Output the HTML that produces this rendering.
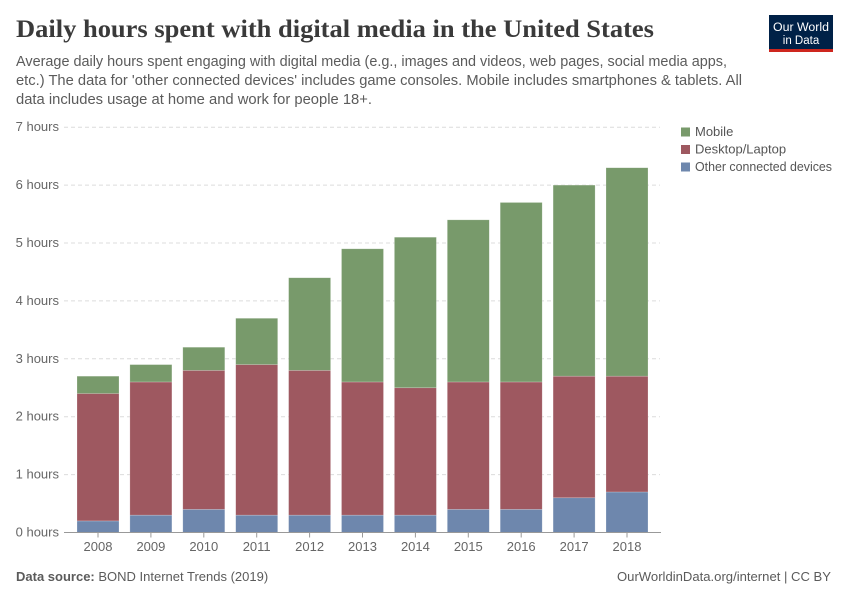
<!DOCTYPE html>
<html>
<head>
<meta charset="utf-8">
<style>
  html,body{margin:0;padding:0;background:#fff;}
  svg{display:block;}
  text{font-family:"Liberation Sans",sans-serif;}
  text.serif{font-family:"Liberation Serif",serif;}
</style>
</head>
<body>
<svg width="850" height="600" viewBox="0 0 850 600" xmlns="http://www.w3.org/2000/svg">
  <rect width="850" height="600" fill="#fff"/>

  <!-- Title -->
  <text class="serif" x="16" y="37" style="font-family:'Liberation Serif',serif;" font-size="25" font-weight="bold" fill="#3a3a3a" textLength="638" lengthAdjust="spacingAndGlyphs">Daily hours spent with digital media in the United States</text>

  <!-- Subtitle -->
  <g font-size="14.5" fill="#5b5b5b">
    <text x="16" y="66" textLength="711" lengthAdjust="spacingAndGlyphs">Average daily hours spent engaging with digital media (e.g., images and videos, web pages, social media apps,</text>
    <text x="16" y="85" textLength="726" lengthAdjust="spacingAndGlyphs">etc.) The data for 'other connected devices' includes game consoles. Mobile includes smartphones &amp; tablets. All</text>
    <text x="16" y="104" textLength="356" lengthAdjust="spacingAndGlyphs">data includes usage at home and work for people 18+.</text>
  </g>

  <!-- Logo -->
  <rect x="769" y="15" width="64" height="34" fill="#002147"/>
  <rect x="769" y="49" width="64" height="3" fill="#ce261e"/>
  <text x="801" y="31" font-size="11.5" fill="#fff" text-anchor="middle" textLength="56" lengthAdjust="spacingAndGlyphs">Our World</text>
  <text x="801" y="44" font-size="11.5" fill="#fff" text-anchor="middle">in Data</text>

  <!-- Gridlines -->
  <g stroke="#dcdcdc" stroke-width="1" stroke-dasharray="4,3">
    <line x1="64" y1="474.6" x2="660" y2="474.6"/>
    <line x1="64" y1="416.7" x2="660" y2="416.7"/>
    <line x1="64" y1="358.8" x2="660" y2="358.8"/>
    <line x1="64" y1="300.9" x2="660" y2="300.9"/>
    <line x1="64" y1="243.0" x2="660" y2="243.0"/>
    <line x1="64" y1="185.1" x2="660" y2="185.1"/>
    <line x1="64" y1="127.2" x2="660" y2="127.2"/>
  </g>

  <!-- Y labels -->
  <g font-size="13" fill="#666" text-anchor="end">
    <text x="59" y="536.5">0 hours</text>
    <text x="59" y="478.6">1 hours</text>
    <text x="59" y="420.7">2 hours</text>
    <text x="59" y="362.8">3 hours</text>
    <text x="59" y="304.9">4 hours</text>
    <text x="59" y="247.0">5 hours</text>
    <text x="59" y="189.1">6 hours</text>
    <text x="59" y="131.2">7 hours</text>
  </g>

  <!-- Bars -->
  <g stroke="#ffffff" stroke-opacity="0.35" stroke-width="0.6">
    <rect x="77" y="520.92" width="42" height="11.58" fill="#6e87ad"/>
    <rect x="77" y="393.54" width="42" height="127.38" fill="#9e5860"/>
    <rect x="77" y="376.17" width="42" height="17.37" fill="#789a6b"/>
    <rect x="129.9" y="515.13" width="42" height="17.37" fill="#6e87ad"/>
    <rect x="129.9" y="381.96" width="42" height="133.17" fill="#9e5860"/>
    <rect x="129.9" y="364.59" width="42" height="17.37" fill="#789a6b"/>
    <rect x="182.8" y="509.34" width="42" height="23.16" fill="#6e87ad"/>
    <rect x="182.8" y="370.38" width="42" height="138.96" fill="#9e5860"/>
    <rect x="182.8" y="347.22" width="42" height="23.16" fill="#789a6b"/>
    <rect x="235.7" y="515.13" width="42" height="17.37" fill="#6e87ad"/>
    <rect x="235.7" y="364.59" width="42" height="150.54" fill="#9e5860"/>
    <rect x="235.7" y="318.27" width="42" height="46.32" fill="#789a6b"/>
    <rect x="288.6" y="515.13" width="42" height="17.37" fill="#6e87ad"/>
    <rect x="288.6" y="370.38" width="42" height="144.75" fill="#9e5860"/>
    <rect x="288.6" y="277.74" width="42" height="92.64" fill="#789a6b"/>
    <rect x="341.5" y="515.13" width="42" height="17.37" fill="#6e87ad"/>
    <rect x="341.5" y="381.96" width="42" height="133.17" fill="#9e5860"/>
    <rect x="341.5" y="248.79" width="42" height="133.17" fill="#789a6b"/>
    <rect x="394.4" y="515.13" width="42" height="17.37" fill="#6e87ad"/>
    <rect x="394.4" y="387.75" width="42" height="127.38" fill="#9e5860"/>
    <rect x="394.4" y="237.21" width="42" height="150.54" fill="#789a6b"/>
    <rect x="447.3" y="509.34" width="42" height="23.16" fill="#6e87ad"/>
    <rect x="447.3" y="381.96" width="42" height="127.38" fill="#9e5860"/>
    <rect x="447.3" y="219.84" width="42" height="162.12" fill="#789a6b"/>
    <rect x="500.2" y="509.34" width="42" height="23.16" fill="#6e87ad"/>
    <rect x="500.2" y="381.96" width="42" height="127.38" fill="#9e5860"/>
    <rect x="500.2" y="202.47" width="42" height="179.49" fill="#789a6b"/>
    <rect x="553.1" y="497.76" width="42" height="34.74" fill="#6e87ad"/>
    <rect x="553.1" y="376.17" width="42" height="121.59" fill="#9e5860"/>
    <rect x="553.1" y="185.1" width="42" height="191.07" fill="#789a6b"/>
    <rect x="606" y="491.97" width="42" height="40.53" fill="#6e87ad"/>
    <rect x="606" y="376.17" width="42" height="115.8" fill="#9e5860"/>
    <rect x="606" y="167.73" width="42" height="208.44" fill="#789a6b"/>
  </g>

  <!-- X axis -->
  <line x1="64" y1="532.5" x2="661" y2="532.5" stroke="#999" stroke-width="1"/>
  <g stroke="#999" stroke-width="1">
    <line x1="98" y1="532.5" x2="98" y2="537.5"/>
    <line x1="150.9" y1="532.5" x2="150.9" y2="537.5"/>
    <line x1="203.8" y1="532.5" x2="203.8" y2="537.5"/>
    <line x1="256.7" y1="532.5" x2="256.7" y2="537.5"/>
    <line x1="309.6" y1="532.5" x2="309.6" y2="537.5"/>
    <line x1="362.5" y1="532.5" x2="362.5" y2="537.5"/>
    <line x1="415.4" y1="532.5" x2="415.4" y2="537.5"/>
    <line x1="468.3" y1="532.5" x2="468.3" y2="537.5"/>
    <line x1="521.2" y1="532.5" x2="521.2" y2="537.5"/>
    <line x1="574.1" y1="532.5" x2="574.1" y2="537.5"/>
    <line x1="627" y1="532.5" x2="627" y2="537.5"/>
  </g>
  <g font-size="13" fill="#666" text-anchor="middle">
    <text x="98" y="551">2008</text>
    <text x="150.9" y="551">2009</text>
    <text x="203.8" y="551">2010</text>
    <text x="256.7" y="551">2011</text>
    <text x="309.6" y="551">2012</text>
    <text x="362.5" y="551">2013</text>
    <text x="415.4" y="551">2014</text>
    <text x="468.3" y="551">2015</text>
    <text x="521.2" y="551">2016</text>
    <text x="574.1" y="551">2017</text>
    <text x="627" y="551">2018</text>
  </g>

  <!-- Legend -->
  <rect x="681" y="127.5" width="9" height="9" fill="#789a6b"/>
  <rect x="681" y="145" width="9" height="9" fill="#9e5860"/>
  <rect x="681" y="162.5" width="9" height="9" fill="#6e87ad"/>
  <g font-size="13" fill="#555">
    <text x="695" y="136">Mobile</text>
    <text x="695" y="153.5">Desktop/Laptop</text>
    <text x="695" y="171" textLength="137" lengthAdjust="spacingAndGlyphs">Other connected devices</text>
  </g>

  <!-- Footer -->
  <text x="16" y="581" font-size="13" fill="#5b5b5b"><tspan font-weight="bold">Data source:</tspan> BOND Internet Trends (2019)</text>
  <text x="831" y="581" font-size="13" fill="#5b5b5b" text-anchor="end" textLength="214" lengthAdjust="spacingAndGlyphs">OurWorldinData.org/internet | CC BY</text>
</svg>
</body>
</html>
